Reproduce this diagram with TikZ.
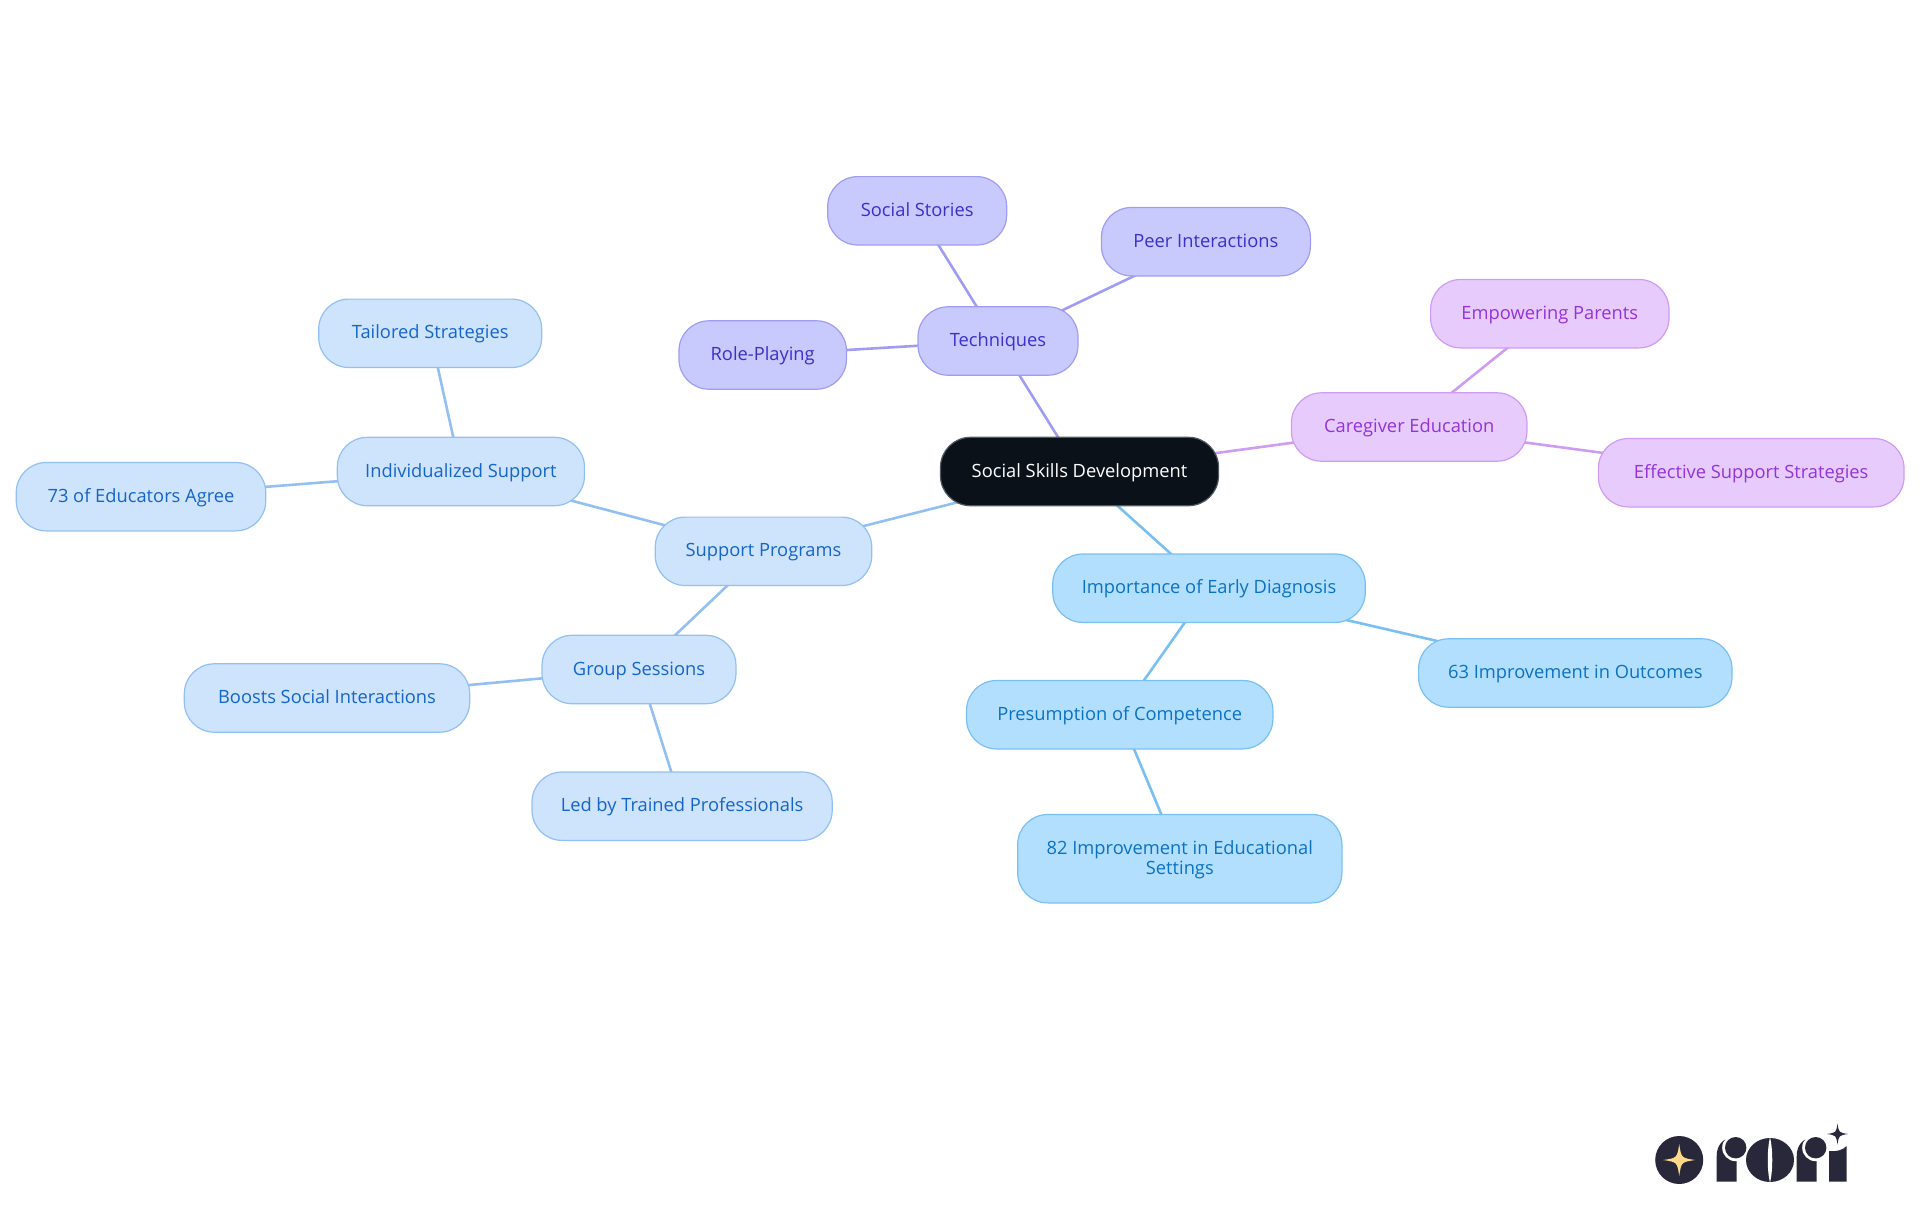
\documentclass[tikz,border=0pt]{standalone}
\usepackage{fontspec}
\setmainfont{Open Sans}
\usetikzlibrary{backgrounds}
\definecolor{rootfill}{HTML}{0A1119}
\definecolor{skyfill}{HTML}{B3DFFF}
\definecolor{skyline}{HTML}{7ABFF2}
\definecolor{skytext}{HTML}{0B72C2}
\definecolor{palefill}{HTML}{CEE3FC}
\definecolor{paleline}{HTML}{93C0F2}
\definecolor{paletext}{HTML}{1565C8}
\definecolor{indigofill}{HTML}{C8CAFD}
\definecolor{indigoline}{HTML}{A09CF4}
\definecolor{indigotext}{HTML}{3A30C8}
\definecolor{purplefill}{HTML}{E7CBFD}
\definecolor{purpleline}{HTML}{CE9CF0}
\definecolor{purpletext}{HTML}{9333D8}
\definecolor{logodark}{HTML}{28283A}
\definecolor{logogold}{HTML}{FFD98A}
\tikzset{
  mapbox/.style={draw, rounded corners=30pt, minimum height=68.4pt, inner sep=0pt, line width=1.2pt,
    align=center, text height=14.5pt, text depth=3.5pt, font=\fontsize{18.3}{20.5}\selectfont},
  rootbox/.style={mapbox, draw=rootfill!70!white, fill=rootfill, text=white},
  skybox/.style={mapbox, draw=skyline, fill=skyfill, text=skytext},
  palebox/.style={mapbox, draw=paleline, fill=palefill, text=paletext},
  indigobox/.style={mapbox, draw=indigoline, fill=indigofill, text=indigotext},
  purplebox/.style={mapbox, draw=purpleline, fill=purplefill, text=purpletext},
  skyedge/.style={draw=skyline, line width=2.6pt},
  paleedge/.style={draw=paleline, line width=2.6pt},
  indigoedge/.style={draw=indigoline, line width=2.6pt},
  purpleedge/.style={draw=purpleline, line width=2.6pt}
}
\newcommand{\logostar}[4]{\fill[#4, shift={(#1,#2)}, scale=#3] (0,-1) .. controls (.13,-.13) .. (1,0) .. controls (.13,.13) .. (0,1) .. controls (-.13,.13) .. (-1,0) .. controls (-.13,-.13) .. cycle;}
\begin{document}
\begin{tikzpicture}[x=1pt,y=-1pt]
    \useasboundingbox (0,0) rectangle (1920,1215);

    \node[rootbox, minimum width=278pt] (root) at (1079.5,471.5) {Social Skills Development};

    \node[indigobox, minimum width=160pt] (techniques) at (998,341) {Techniques};
    \node[indigobox, minimum width=179pt] (stories) at (917.2,210.8) {Social Stories};
    \node[indigobox, minimum width=209pt] (peers) at (1205.9,241.7) {Peer Interactions};
    \node[indigobox, minimum width=167.5pt] (roleplay) at (762.7,355) {Role-Playing};

    \node[purplebox, minimum width=235.5pt] (caregiver) at (1409.2,427) {Caregiver Education};
    \node[purplebox, minimum width=238.4pt] (parents) at (1549.8,313.7) {Empowering Parents};
    \node[purplebox, minimum width=305.7pt] (strategies) at (1751.2,472.7) {Effective Support Strategies};

    \node[skybox, minimum width=312.5pt] (diagnosis) at (1209,588.2) {Importance of Early Diagnosis};
    \node[skybox, minimum width=313.4pt] (outcomes) at (1575.3,673) {63 Improvement in Outcomes};
    \node[skybox, minimum width=306.4pt] (competence) at (1119.7,714.7) {Presumption of Competence};
    \node[skybox, minimum width=324.2pt, minimum height=88.4pt, text height=35pt, text depth=3pt] (settings) at (1179.8,858.7) {82 Improvement in Educational\\Settings};

    \node[palebox, minimum width=216.5pt] (programs) at (763.5,551.3) {Support Programs};
    \node[palebox, minimum width=247.2pt] (individual) at (460.9,471.5) {Individualized Support};
    \node[palebox, minimum width=223pt] (tailored) at (430.2,333.3) {Tailored Strategies};
    \node[palebox, minimum width=249.5pt] (educators) at (141,496.7) {73 of Educators Agree};
    \node[palebox, minimum width=193.9pt] (group) at (639,669.5) {Group Sessions};
    \node[palebox, minimum width=285.4pt] (boosts) at (327,698) {Boosts Social Interactions};
    \node[palebox, minimum width=300.2pt] (trained) at (682.1,806.2) {Led by Trained Professionals};

    \begin{scope}[on background layer]
        \draw[indigoedge] (root.center) -- (techniques.center);
        \draw[indigoedge] (techniques.center) -- (stories.center);
        \draw[indigoedge] (techniques.center) -- (peers.center);
        \draw[indigoedge] (techniques.center) -- (roleplay.center);
        \draw[purpleedge] (root.center) -- (caregiver.center);
        \draw[purpleedge] (caregiver.center) -- (parents.center);
        \draw[purpleedge] (caregiver.center) -- (strategies.center);
        \draw[skyedge] (root.center) -- (diagnosis.center);
        \draw[skyedge] (diagnosis.center) -- (outcomes.center);
        \draw[skyedge] (diagnosis.center) -- (competence.center);
        \draw[skyedge] (competence.center) -- (settings.center);
        \draw[paleedge] (root.center) -- (programs.center);
        \draw[paleedge] (programs.center) -- (individual.center);
        \draw[paleedge] (individual.center) -- (tailored.center);
        \draw[paleedge] (individual.center) -- (educators.center);
        \draw[paleedge] (programs.center) -- (group.center);
        \draw[paleedge] (group.center) -- (boosts.center);
        \draw[paleedge] (group.center) -- (trained.center);
    \end{scope}

    % logo
    \fill[logodark] (1679.2,1160) circle (24);
    \logostar{1679.2}{1160}{16}{logogold}
    \fill[logodark] (1716.7,1181.7) -- (1716.7,1156) .. controls (1716.7,1146) and (1722,1138) .. (1734,1137) -- (1736.7,1160) -- (1736.7,1181.7) -- cycle;
    \fill[white] (1735.7,1147.7) circle (13.5);
    \fill[logodark] (1735.7,1147.7) circle (10.7);
    \fill[logodark] (1770,1160) ellipse (24 and 22);
    \fill[white] (1770,1137) .. controls (1767,1150) and (1767,1170) .. (1770,1183) .. controls (1773,1170) and (1773,1150) .. (1770,1137) -- cycle;
    \fill[logodark] (1796.7,1181.7) -- (1796.7,1156) .. controls (1796.7,1146) and (1802,1138) .. (1814,1137) -- (1816.7,1160) -- (1816.7,1181.7) -- cycle;
    \fill[white] (1815.7,1147.7) circle (13.5);
    \fill[logodark] (1815.7,1147.7) circle (10.7);
    \fill[logodark] (1829,1181.7) -- (1829,1151) .. controls (1836,1152) and (1843,1150) .. (1846.7,1146) -- (1846.7,1181.7) -- cycle;
    \logostar{1837.5}{1134}{10.5}{logodark}
\end{tikzpicture}
\end{document}
